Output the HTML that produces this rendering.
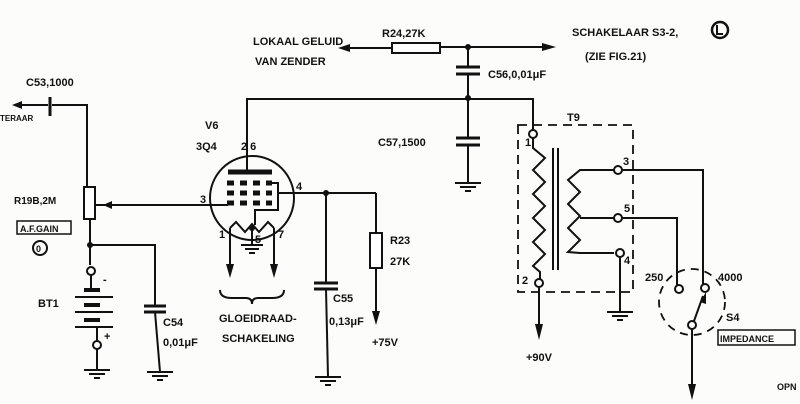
<!DOCTYPE html>
<html><head><meta charset="utf-8"><style>
html,body{margin:0;padding:0;background:#fff;}
svg{display:block;}
text{font-family:"Liberation Sans",sans-serif;font-weight:bold;font-size:11px;fill:#111;}
</style></head><body>
<svg width="800" height="404" viewBox="0 0 800 404" xmlns="http://www.w3.org/2000/svg">
<rect width="800" height="404" fill="#fcfcfa"/>
<g stroke="#111" stroke-width="2" fill="none">
<line x1="345" y1="48" x2="392" y2="48"/>
<rect x="392" y="43" width="48" height="10" fill="#fff"/>
<line x1="440" y1="47" x2="548" y2="47"/>
<line x1="468" y1="47" x2="468" y2="66"/>
<line x1="456" y1="67" x2="480" y2="67" stroke-width="3"/>
<line x1="456" y1="74" x2="480" y2="74" stroke-width="3"/>
<line x1="468" y1="74" x2="468" y2="138"/>
<line x1="456" y1="138" x2="480" y2="138" stroke-width="3"/>
<line x1="456" y1="145" x2="480" y2="145" stroke-width="3"/>
<line x1="468" y1="145" x2="468" y2="183"/>
<line x1="455" y1="183" x2="481" y2="183"/><line x1="460" y1="187" x2="476" y2="187"/><line x1="465" y1="191" x2="471" y2="191"/>
<polyline points="247,172 247,99 533,99 533,130"/>
<line x1="18" y1="105" x2="48" y2="105"/>
<line x1="50" y1="97" x2="50" y2="116" stroke-width="3"/>
<polyline points="52,105 87,105 87,187"/>
<rect x="84" y="187" width="11" height="32" fill="#fff"/>
<line x1="90" y1="219" x2="90" y2="265"/>
<line x1="95" y1="205" x2="210" y2="205"/>
<polyline points="90,245 155,245 155,306"/>
<line x1="144" y1="306" x2="166" y2="306" stroke-width="3"/>
<line x1="144" y1="312" x2="166" y2="312" stroke-width="3"/>
<line x1="155" y1="312" x2="160" y2="372"/>
<line x1="147" y1="372" x2="173" y2="372"/><line x1="152" y1="376" x2="168" y2="376"/><line x1="157" y1="380" x2="163" y2="380"/>
<circle cx="91" cy="271" r="4" fill="#fff"/>
<line x1="91" y1="275" x2="91" y2="290"/>
<line x1="84" y1="290" x2="100" y2="290" stroke-width="4"/>
<line x1="75" y1="297" x2="113" y2="297"/>
<line x1="84" y1="305" x2="100" y2="305" stroke-width="4"/>
<line x1="75" y1="312" x2="113" y2="312"/>
<line x1="84" y1="320" x2="100" y2="320" stroke-width="4"/>
<line x1="75" y1="327" x2="113" y2="327"/>
<line x1="97" y1="327" x2="97" y2="341"/>
<circle cx="97" cy="345" r="4" fill="#fff"/>
<line x1="97" y1="349" x2="97" y2="370"/>
<line x1="84" y1="370" x2="110" y2="370"/><line x1="89" y1="374" x2="105" y2="374"/><line x1="94" y1="378" x2="100" y2="378"/>
<circle cx="252" cy="198" r="42" fill="none"/>
<line x1="228" y1="172" x2="272" y2="172" stroke-width="5"/>
<g stroke-width="5" stroke-dasharray="7,6">
<line x1="227" y1="183" x2="272" y2="183"/><line x1="227" y1="193" x2="272" y2="193"/><line x1="227" y1="203" x2="272" y2="203"/>
</g>
<polyline points="270,183 278,183 278,210 255,210 255,225"/>
<line x1="278" y1="193" x2="376" y2="193"/>
<line x1="210" y1="205" x2="228" y2="205"/>
<polyline points="230,228 236,222 245,232 252,224 259,232 268,222 274,228"/>
<line x1="230" y1="228" x2="230" y2="265"/>
<line x1="274" y1="228" x2="274" y2="265"/>
<line x1="252" y1="226" x2="252" y2="245"/>
<line x1="241" y1="245" x2="263" y2="245"/><line x1="245" y1="249" x2="259" y2="249"/><line x1="249" y1="253" x2="255" y2="253"/>
<path d="M220,290 q0,8 12,8 h14 q6,0 6,6 q0,-6 6,-6 h14 q12,0 12,-8"/>
<line x1="326" y1="193" x2="326" y2="283"/>
<line x1="314" y1="283" x2="338" y2="283" stroke-width="3"/>
<line x1="314" y1="289" x2="338" y2="289" stroke-width="3"/>
<line x1="326" y1="289" x2="328" y2="377"/>
<line x1="315" y1="377" x2="341" y2="377"/><line x1="320" y1="381" x2="336" y2="381"/><line x1="325" y1="385" x2="331" y2="385"/>
<line x1="376" y1="193" x2="376" y2="233"/>
<rect x="370" y="233" width="12" height="35" fill="#fff"/>
<line x1="376" y1="268" x2="376" y2="315"/>
<rect x="518" y="125" width="115" height="167" stroke-dasharray="9,6" stroke-width="1.8"/>
<circle cx="533" cy="134" r="4" fill="#fff"/>
<polyline points="533,138 533,148 545,158 533,170 545,182 533,194 545,206 533,218 545,230 533,242 545,254 533,266 540,272 540,279"/>
<circle cx="539" cy="283" r="4" fill="#fff"/>
<line x1="539" y1="287" x2="539" y2="325"/>
<line x1="553" y1="148" x2="553" y2="270"/><line x1="558" y1="148" x2="558" y2="270"/>
<polyline points="614,170 580,170 568,180 580,192 568,204 580,216 568,228 580,240 568,252 580,253 614,253"/>
<line x1="580" y1="218" x2="614" y2="218"/>
<circle cx="618" cy="170" r="4" fill="#fff"/>
<circle cx="618" cy="218" r="4" fill="#fff"/>
<circle cx="620" cy="253" r="4" fill="#fff"/>
<polyline points="622,170 703,170 703,284"/>
<polyline points="622,218 677,218 677,286"/>
<line x1="620" y1="257" x2="620" y2="312"/>
<line x1="607" y1="312" x2="633" y2="312"/><line x1="612" y1="316" x2="628" y2="316"/><line x1="617" y1="320" x2="623" y2="320"/>
<circle cx="692" cy="302" r="33" stroke-dasharray="8,6" stroke-width="1.8"/>
<circle cx="679" cy="289" r="4" fill="#fff"/>
<circle cx="705" cy="288" r="4" fill="#fff"/>
<circle cx="692" cy="325" r="4" fill="#fff"/>
<line x1="694" y1="321" x2="703" y2="296"/>
<line x1="692" y1="329" x2="692" y2="385"/>
<rect x="718" y="330" width="77" height="15" stroke-width="1.5"/>
<rect x="17" y="221" width="54" height="13" stroke-width="1.5"/>
<circle cx="40" cy="248" r="7" stroke-width="2"/>
<circle cx="720" cy="30" r="8" stroke-width="2.5"/>
<path d="M717,25 v9 h6"/>
</g>
<g fill="#111">
<polygon points="338,48 350,44 350,52"/>
<polygon points="556,47 542,43 542,51"/>
<polygon points="12,105 22,101 22,109"/>
<polygon points="103,205 112,201 112,209"/>
<circle cx="468" cy="47" r="3"/><circle cx="468" cy="98" r="3"/>
<circle cx="90" cy="245" r="3"/><circle cx="326" cy="193" r="3"/><circle cx="252" cy="228" r="3"/>
<polygon points="230,278 226,264 234,264"/><polygon points="274,278 270,264 278,264"/>
<polygon points="376,325 372,311 380,311"/>
<polygon points="539,340 535,324 543,324"/>
<polygon points="692,400 688,384 696,384"/>
<polygon points="706,292 700,302 706,304"/>
</g>
<text x="253" y="45">LOKAAL GELUID</text>
<text x="255" y="65">VAN ZENDER</text>
<text x="382" y="37">R24,27K</text>
<text x="572" y="36">SCHAKELAAR S3-2,</text>
<text x="585" y="60">(ZIE FIG.21)</text>
<text x="488" y="78">C56,0,01μF</text>
<text x="378" y="146">C57,1500</text>
<text x="567" y="121">T9</text>
<text x="26" y="86">C53,1000</text>
<text x="0" y="121" style="font-size:8px">TERAAR</text>
<text x="205" y="129">V6</text>
<text x="196" y="150">3Q4</text>
<text x="241" y="150">2 6</text>
<text x="200" y="203">3</text>
<text x="296" y="190">4</text>
<text x="219" y="238">1</text>
<text x="278" y="238">7</text>
<text x="255" y="243">5</text>
<text x="14" y="204" style="font-size:10px">R19B,2M</text>
<text x="20" y="232" style="font-size:9px">A.F.GAIN</text>
<text x="36" y="252" style="font-size:9px">0</text>
<text x="103" y="283">-</text>
<text x="104" y="340">+</text>
<text x="38" y="307">BT1</text>
<text x="163" y="326">C54</text>
<text x="163" y="346">0,01μF</text>
<text x="219" y="322">GLOEIDRAAD-</text>
<text x="222" y="342">SCHAKELING</text>
<text x="333" y="302">C55</text>
<text x="329" y="325">0,13μF</text>
<text x="390" y="244">R23</text>
<text x="390" y="265">27K</text>
<text x="372" y="346">+75V</text>
<text x="525" y="146">1</text>
<text x="522" y="284">2</text>
<text x="623" y="165">3</text>
<text x="624" y="212">5</text>
<text x="624" y="264">4</text>
<text x="645" y="281">250</text>
<text x="718" y="281">4000</text>
<text x="726" y="321">S4</text>
<text x="720" y="342" style="font-size:9px">IMPEDANCE</text>
<text x="526" y="361">+90V</text>
<text x="777" y="390" style="font-size:9px">OPN</text>
</svg>
</body></html>
